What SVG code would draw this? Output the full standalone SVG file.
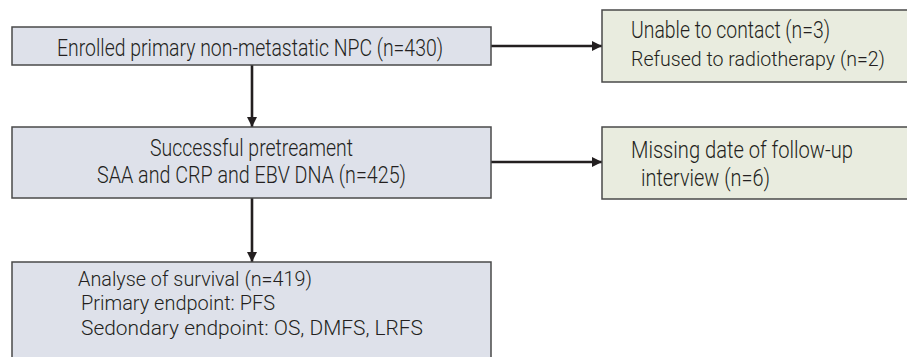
<svg xmlns="http://www.w3.org/2000/svg" width="907" height="357" viewBox="0 0 907 357">
<defs>
<style>
.main{fill:#dee1ea;stroke:#4a4a4a;stroke-width:1.5}
.side{fill:#e9ecdf;stroke:#4a4a4a;stroke-width:1.5}
text{font-family:"Roboto","Liberation Sans",sans-serif;font-weight:300;font-size:23px;fill:#231f20}
.sm{font-size:21px}
.conn{stroke:#231f20;stroke-width:2.6;fill:none}
</style>
<marker id="ah" markerUnits="userSpaceOnUse" markerWidth="12" markerHeight="12" viewBox="0 0 12 12" refX="10" refY="6" orient="auto">
<path d="M0,1 L10,6 L0,11 Z" fill="#231f20"/>
</marker>
</defs>
<rect width="907" height="357" fill="#ffffff"/>
<g id="connectors">
<line class="conn" x1="252" y1="65" x2="252" y2="127" marker-end="url(#ah)"/>
<line class="conn" x1="252" y1="198" x2="252" y2="262" marker-end="url(#ah)"/>
<line class="conn" x1="491" y1="46" x2="602" y2="46" marker-end="url(#ah)"/>
<line class="conn" x1="491" y1="162" x2="602" y2="162" marker-end="url(#ah)"/>
</g>
<g id="enrolled">
<rect class="main" x="12" y="27" width="479" height="38"/>
<text x="57" y="56" textLength="386" lengthAdjust="spacingAndGlyphs">Enrolled primary non-metastatic NPC (n=430)</text>
</g>
<g id="excluded1">
<path class="side" d="M907,10 H602 V82 H907"/>
<text x="631" y="38" textLength="199" lengthAdjust="spacingAndGlyphs">Unable to contact (n=3)</text>
<text class="sm" x="631" y="66" textLength="254" lengthAdjust="spacingAndGlyphs">Refused to radiotherapy (n=2)</text>
</g>
<g id="pretreatment">
<rect class="main" x="12" y="127" width="479" height="71"/>
<text x="150" y="156" textLength="203" lengthAdjust="spacingAndGlyphs">Successful pretreament</text>
<text x="97" y="183" textLength="309" lengthAdjust="spacingAndGlyphs">SAA and CRP and EBV DNA (n=425)</text>
</g>
<g id="excluded2">
<path class="side" d="M907,127 H602 V199 H907"/>
<text x="631" y="158" textLength="222" lengthAdjust="spacingAndGlyphs">Missing date of follow-up</text>
<text x="641" y="186" textLength="129" lengthAdjust="spacingAndGlyphs">interview (n=6)</text>
</g>
<g id="analysis">
<path class="main" d="M12,357 V262 H491 V357"/>
<text class="sm" x="78" y="285.5" textLength="234" lengthAdjust="spacingAndGlyphs">Analyse of survival (n=419)</text>
<text class="sm" x="81" y="310.2" textLength="194" lengthAdjust="spacingAndGlyphs">Primary endpoint: PFS</text>
<text class="sm" x="81" y="334.9" textLength="342" lengthAdjust="spacingAndGlyphs">Sedondary endpoint: OS, DMFS, LRFS</text>
</g>
</svg>
